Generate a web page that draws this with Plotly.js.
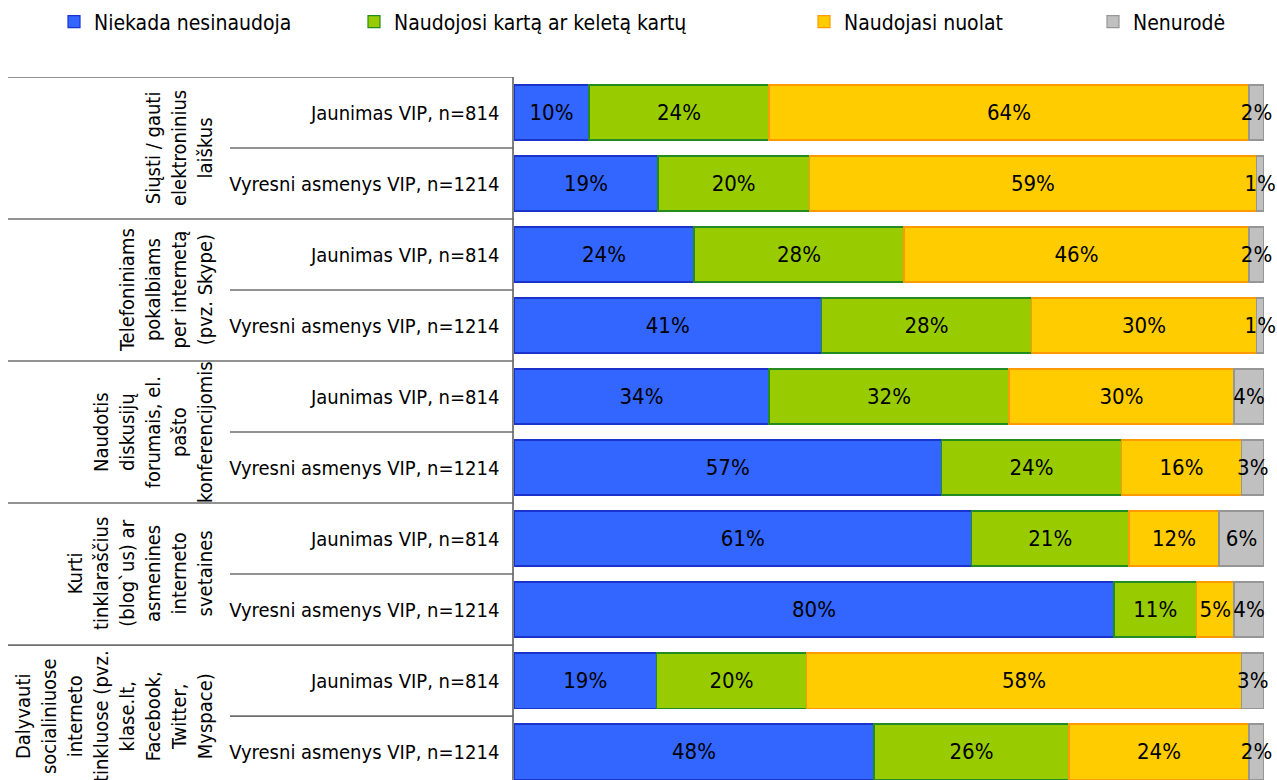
<!DOCTYPE html>
<html>
<head>
<meta charset="utf-8">
<script src="https://cdn.plot.ly/plotly-3.0.1.min.js"></script>
<style>html,body{margin:0;padding:0;overflow:hidden;background:#fff;}#chart{width:1277px;height:780px;}</style>
</head>
<body>
<div id="chart"></div>
<script>
// ---- data ----
var rowLabels = [
  "Jaunimas VIP, n=814", "Vyresni asmenys VIP, n=1214",
  "Jaunimas VIP, n=814", "Vyresni asmenys VIP, n=1214",
  "Jaunimas VIP, n=814", "Vyresni asmenys VIP, n=1214",
  "Jaunimas VIP, n=814", "Vyresni asmenys VIP, n=1214",
  "Jaunimas VIP, n=814", "Vyresni asmenys VIP, n=1214"
];
var groupLabels = [
  "Siųsti / gauti<br>elektroninius<br>laiškus",
  "Telefoniniams<br>pokalbiams<br>per internetą<br>(pvz. Skype)",
  "Naudotis<br>diskusijų<br>forumais, el.<br>pašto<br>konferencijomis",
  "Kurti<br>tinklaraščius<br>(blog`us) ar<br>asmenines<br>interneto<br>svetaines",
  "Dalyvauti<br>socialiniuose<br>interneto<br>tinkluose (pvz.<br>klase.lt,<br>Facebook,<br>Twitter,<br>Myspace)"
];
var seriesNames = ["Niekada nesinaudoja", "Naudojosi kartą ar keletą kartų", "Naudojasi nuolat", "Nenurodė"];
var niekada  = [10, 19, 24, 41, 34, 57, 61, 80, 19, 48];
var kartaKeleta = [24, 20, 28, 28, 32, 24, 21, 11, 20, 26];
var nuolat   = [64, 59, 46, 30, 30, 16, 12, 5, 58, 24];
var nenurode = [2, 1, 2, 1, 4, 3, 6, 4, 3, 2];

// ---- styling ----
var FONT = "DejaVu Sans Condensed, DejaVu Sans, sans-serif";
var fills   = ["#3366FF", "#99CC00", "#FFCC00", "#C0C0C0"];
var borders = ["#1A33CC", "#228B22", "#FF9900", "#969696"];
var legendNames = ["legend", "legend2", "legend3", "legend4"];
var legendPx = [54, 354, 804, 1093];

var seriesVals = [niekada, kartaKeleta, nuolat, nenurode];
var yIdx = rowLabels.map(function(_, i){ return i; });

var traces = seriesVals.map(function(vals, s){
  return {
    type: "bar",
    orientation: "h",
    name: seriesNames[s],
    x: vals,
    y: yIdx,
    text: vals.map(function(v){ return v + "%"; }),
    textposition: "inside",
    insidetextanchor: "middle",
    constraintext: "none",
    cliponaxis: false,
    textangle: 0,
    textfont: {family: FONT, size: 22, color: "#000"},
    marker: {color: fills[s], line: {color: borders[s], width: 1.2}},
    legend: legendNames[s],
    hoverinfo: "name+text"
  };
});

var L = 514, PW = 750;
function px2paper(p){ return (p - L) / PW; }

var shapes = [];
var nRows = rowLabels.length;
for (var b = -1; b < nRows; b++) {
  var isGroup = ((b + 1) % 2 === 0);
  shapes.push({
    type: "line", xref: "paper", yref: "y",
    x0: px2paper(isGroup ? 8 : 230), x1: 0,
    y0: b + 0.5, y1: b + 0.5,
    line: {color: "#6e6e6e", width: 1.6}
  });
}

var annotations = groupLabels.map(function(g, i){
  return {
    xref: "paper", yref: "y",
    x: px2paper(219), y: 2 * i + 0.5,
    xanchor: "right", yanchor: "middle",
    text: g, textangle: -90, showarrow: false,
    align: "center",
    font: {family: FONT, size: 20, color: "#000"}
  };
});

var layout = {
  width: 1277, height: 780,
  margin: {l: L, r: 13, t: 77, b: 0, pad: 0},
  paper_bgcolor: "#fff", plot_bgcolor: "#fff",
  barmode: "stack", barnorm: "percent",
  bargap: 0.225,
  font: {family: FONT, size: 20, color: "#000"},
  xaxis: {range: [0, 100], showgrid: false, zeroline: false, showticklabels: false, ticks: "", fixedrange: true},
  yaxis: {
    range: [9.4, -0.5], tickvals: yIdx, ticktext: rowLabels,
    showgrid: false, zeroline: false, ticks: "",
    showline: true, linecolor: "#808080", linewidth: 1.6,
    ticklabelstandoff: 9,
    tickfont: {family: FONT, size: 20, color: "#000"}, fixedrange: true
  },
  shapes: shapes,
  annotations: annotations,
  showlegend: true
};
legendNames.forEach(function(ln, s){
  layout[ln] = {
    orientation: "h", xref: "container", yref: "container",
    x: legendPx[s] / 1277, y: 1 - 22 / 780,
    xanchor: "left", yanchor: "middle",
    font: {family: FONT, size: 21, color: "#000"},
    bgcolor: "rgba(0,0,0,0)", itemwidth: 30
  };
});

Plotly.newPlot("chart", traces, layout, {displayModeBar: false, staticPlot: true});
</script>
</body>
</html>
